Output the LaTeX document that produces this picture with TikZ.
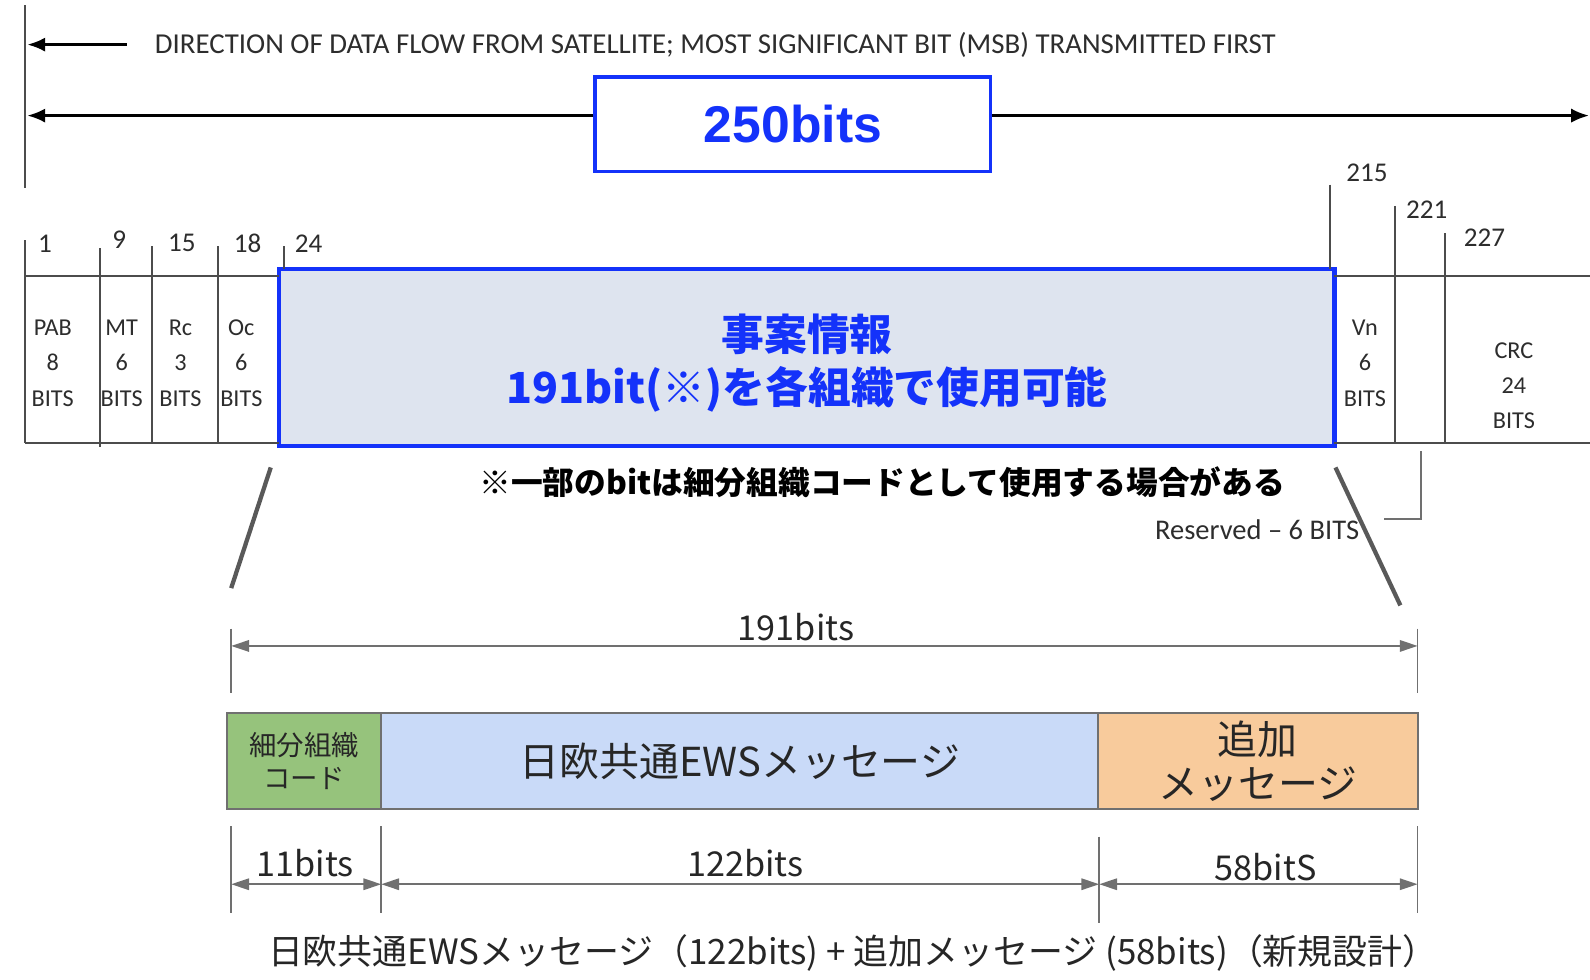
\documentclass[tikz,border=0pt]{standalone}
\usepackage{fontspec}
\setmainfont{Carlito}
\newfontfamily\jpfont{Noto Sans CJK JP}
\newfontfamily\arialfont{Liberation Sans}
\usetikzlibrary{arrows.meta,positioning}

\definecolor{fieldblue}{RGB}{20,50,250}
\definecolor{fieldfill}{RGB}{222,228,239}
\definecolor{dimgray}{RGB}{112,112,112}
\definecolor{txtgray}{RGB}{45,45,45}
\definecolor{codegreen}{RGB}{150,195,124}
\definecolor{ewsblue}{RGB}{201,218,248}
\definecolor{addorange}{RGB}{248,203,156}

\tikzset{
  rule/.style={line width=0.55pt, black!70},
  toparrow/.style={line width=0.75pt, black, -{Latex[length=5pt,width=4pt]}},
  dimtick/.style={line width=0.45pt, dimgray},
  dimarrow/.style={line width=0.55pt, dimgray, {Triangle[length=5pt,width=3.2pt]}-{Triangle[length=5pt,width=3.2pt]}},
  zoomline/.style={line width=1.2pt, black!65},
  bitno/.style={font=\fontsize{7.6}{9}\selectfont, text=txtgray, inner sep=0pt},
  cell/.style={font=\fontsize{6.8}{10}\selectfont, text=txtgray, align=center, inner sep=0pt},
  barcell/.style={draw=dimgray, line width=0.6pt, outer sep=0pt, inner sep=0pt, minimum height=9.5mm,
    align=center, text=black!85},
  dimlabel/.style={font=\jpfont\fontsize{9.6}{11}\selectfont, text=black!85, inner sep=0pt},
}

\begin{document}
\begin{tikzpicture}[x=0.1mm, y=-0.1mm]
  \useasboundingbox (0,0) rectangle (1568,966);

  % direction of flow and total length
  \draw[rule] (25,5) -- (25,185);
  \node[anchor=west, inner sep=0pt, text=txtgray, font=\fontsize{8.1}{9}\selectfont] (dir) at (152,44)
    {DIRECTION OF DATA FLOW FROM SATELLITE; MOST SIGNIFICANT BIT (MSB) TRANSMITTED FIRST};
  \coordinate (dirtip) at (27,44);
  \draw[toparrow] (125,44) -- (dirtip);

  \node[draw=fieldblue, line width=1pt, fill=white, minimum width=39mm, minimum height=9.3mm,
    text=fieldblue, font=\arialfont\bfseries\fontsize{14.5}{16}\selectfont] (total) at (782,122.5) {250bits};
  \coordinate (lefttip) at (27,114);
  \coordinate (righttip) at (1567,114);
  \draw[toparrow] (total.west |- lefttip) -- (lefttip);
  \draw[toparrow] (total.east |- righttip) -- (righttip);

  % message fields
  \node[draw=fieldblue, line width=1.15pt, fill=fieldfill, minimum width=104.1mm, minimum height=17.5mm,
    text=fieldblue, font=\jpfont\bfseries\fontsize{12}{14.8}\selectfont] (info) at (795.5,352.5) {};
  \node[align=center, text=fieldblue, font=\jpfont\bfseries\fontsize{12}{14.8}\selectfont] (infotext)
    at (796,358) {事案情報\\191bit(※)を各組織で使用可能};

  \draw[rule] (25,272) -- (275,272) (1316,272) -- (1568,272);
  \draw[rule] (25,437) -- (275,437) (1316,437) -- (1568,437);
  \foreach \x/\top/\bot in {25/237/437, 99/245/441, 150/243/437, 215/243/437, 280/243/265,
                             1312/182/265, 1376/203/437, 1425/230/437}
    \draw[rule] (\x,\top) -- (\x,\bot);

  \foreach \x/\y/\n in {37/240/1, 110/236/9, 165/240/15, 230/240/18, 290/240/24,
                         1327/170/215, 1386/207/221, 1443/234/227}
    \node[bitno, anchor=west] (b\n) at (\x,\y) {\n};

  \foreach \x/\name/\len in {52/PAB/8, 120/MT/6, 178/Rc/3, 238/Oc/6, 1346/Vn/6}
    \node[cell] (f\name) at (\x,358) {\name\\\len\\BITS};
  \node[cell, font=\fontsize{6.8}{9.8}\selectfont] (fCRC) at (1493,380) {CRC\\24\\BITS};

  \node[font=\jpfont\bfseries\fontsize{8.9}{10}\selectfont, inner sep=0pt] (note) at (870,476)
    {※一部のbitは細分組織コードとして使用する場合がある};
  \node[anchor=east, inner sep=0pt, text=txtgray, font=\fontsize{8}{9}\selectfont] (res) at (1341,522)
    {Reserved – 6 BITS};
  \draw[line width=0.6pt, dimgray] (1401,445) |- (1365,512);

  \draw[zoomline] (267,461) -- (228,580);
  \draw[zoomline] (1317,461) -- (1381,597);

  % breakdown of the 191 bits
  \draw[dimtick] (228,620) -- (228,683);
  \draw[dimtick] (1398,620) -- (1398,683);
  \coordinate (a0) at (228,637);
  \coordinate (a1) at (1398,637);
  \draw[dimarrow] (a0) -- (a1);
  \node[dimlabel] (l191) at (785,618) {191bits};

  \node[barcell, fill=codegreen, minimum width=15.2mm, font=\jpfont\fontsize{7.7}{9.4}\selectfont] (code) at (300,750.5)
    {細分組織\\コード};
  \node[barcell, fill=ewsblue, minimum width=70.7mm, font=\jpfont\fontsize{11.2}{12.5}\selectfont,
    right=0mm of code] (ews) {日欧共通EWSメッセージ};
  \node[barcell, fill=addorange, minimum width=31.5mm, font=\jpfont\fontsize{11.2}{12.5}\selectfont,
    right=0mm of ews] (add) {追加\\メッセージ};

  \foreach \x/\top/\bot in {228/815/900, 376/815/900, 1084/825/910, 1398/815/900}
    \draw[dimtick] (\x,\top) -- (\x,\bot);
  \coordinate (c0) at (228,872);
  \coordinate (c1) at (376,872);
  \coordinate (c2) at (1084,872);
  \coordinate (c3) at (1398,872);
  \draw[dimarrow] (c0) -- (c1);
  \draw[dimarrow] (c1) -- (c2);
  \draw[dimarrow] (c2) -- (c3);
  \node[dimlabel] (l11) at (301,851) {11bits};
  \node[dimlabel] (l122) at (735,851) {122bits};
  \node[dimlabel] (l58) at (1248,855) {58bitS};

  \node[dimlabel, font=\jpfont\fontsize{9.8}{11}\selectfont] (sum) at (841,940)
    {日欧共通EWSメッセージ（122bits) + 追加メッセージ (58bits)（新規設計）};
\end{tikzpicture}
\end{document}
